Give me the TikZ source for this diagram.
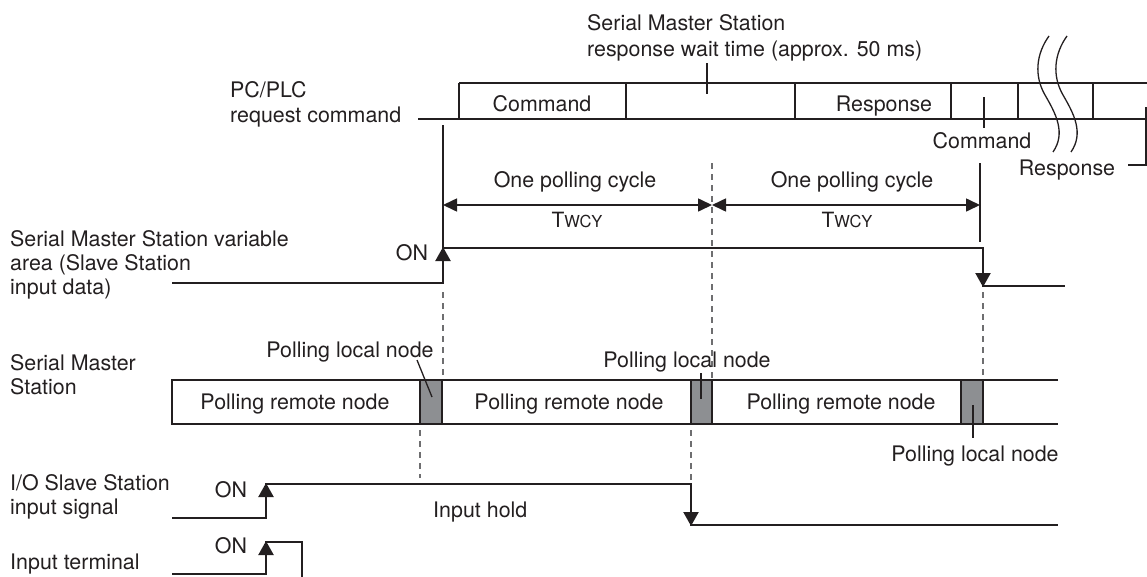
\documentclass[tikz,border=0pt]{standalone}
\usepackage{fontspec}
\setmainfont{TeX Gyre Heros}
\usetikzlibrary{arrows.meta}
\definecolor{ink}{RGB}{35,31,32}
\definecolor{dashgray}{RGB}{110,110,112}
\definecolor{fillgray}{RGB}{141,143,146}
\begin{document}
\begin{tikzpicture}[x=1pt,y=-1pt,
  lbl/.style={font=\fontsize{21.4}{24.5}\selectfont, inner sep=0pt, text=ink},
  sig/.style={draw=ink, line width=2.2pt},
  boxln/.style={draw=ink, line width=2pt},
  thin/.style={draw=ink, line width=1.3pt},
  dashln/.style={draw=dashgray, line width=1.3pt, dash pattern=on 6pt off 5pt},
  tip/.style={draw=ink, line width=2.2pt, -{Triangle[length=14pt,width=15pt]}},
  dimarr/.style={draw=ink, line width=1.6pt, {Triangle[length=14pt,width=13pt]}-{Triangle[length=14pt,width=13pt]}},
  localbox/.style={fill=fillgray, draw=ink, line width=2pt}
]
\useasboundingbox (0,0) rectangle (1147,576);

% ---------- top row: PC/PLC request command ----------
\node[lbl, anchor=base west] (pcplc1) at (230,97) {PC/PLC};
\node[lbl, anchor=base west] (pcplc2) at (230,122) {request command};
\node[lbl, anchor=base west] (wait1) at (587,30) {Serial Master Station};
\node[lbl, anchor=base west] (wait2) at (587,56) {response wait time (approx. 50 ms)};

\draw[boxln] (418,119) -- (1147,119);
\draw[boxln] (459,83) -- (1147,83);
\foreach \xx in {459,626,795,951,1018,1093}{\draw[boxln] (\xx,83) -- (\xx,119);}
\node[lbl, anchor=base] (cmd1) at (542,111) {Command};
\node[lbl, anchor=base] (resp1) at (884,111) {Response};
\node[lbl, anchor=base] (cmd2) at (982,148) {Command};
\node[lbl, anchor=base] (resp2) at (1067,175) {Response};

% leaders
\draw[thin] (707,63) -- (707,94);
\draw[thin] (984,97) -- (984,128);
\draw[thin] (1128,165) -- (1146,165) -- (1146,107);

% break waves
\draw[thin] (1049,36) .. controls (1036,54) and (1034,76) .. (1045,95)
  .. controls (1056,114) and (1066,133) .. (1053,152);
\draw[thin] (1067,36) .. controls (1054,54) and (1052,76) .. (1063,95)
  .. controls (1074,114) and (1084,133) .. (1071,152);

% ---------- polling cycle dimensions ----------
\draw[thin] (443,125) -- (443,248);
\draw[thin] (980,163) -- (980,242);
\draw[dashln] (712,163) -- (712,378);
\draw[dimarr] (443,205) -- (712,205);
\draw[dimarr] (712,205) -- (980,205);
\node[lbl, anchor=base] (cyc1) at (575,187) {One polling cycle};
\node[lbl, anchor=base] (cyc2) at (852,187) {One polling cycle};
\node[inner sep=0pt, text=ink, anchor=base] (tw1) at (577,227) {\fontsize{21}{21}\selectfont T\fontsize{16.5}{16.5}\selectfont WCY};
\node[inner sep=0pt, text=ink, anchor=base] (tw2) at (847,227) {\fontsize{21}{21}\selectfont T\fontsize{16.5}{16.5}\selectfont WCY};

% ---------- variable area signal ----------
\node[lbl, anchor=base west] (var1) at (10,246) {Serial Master Station variable};
\node[lbl, anchor=base west] (var2) at (10,270) {area (Slave Station};
\node[lbl, anchor=base west] (var3) at (10,294) {input data)};
\node[lbl, anchor=base] (on1) at (412,260) {ON};
\draw[sig] (172,283) -- (443,283) -- (443,248) -- (983,248) -- (983,286) -- (1065,286);
\draw[tip] (443,274) -- (443,247);
\draw[tip] (983,260) -- (983,287);
\draw[dashln] (443,292) -- (443,378);
\draw[dashln] (983,292) -- (983,378);

% ---------- Serial Master Station polling bar ----------
\node[lbl, anchor=base west] (sms1) at (10,370) {Serial Master};
\node[lbl, anchor=base west] (sms2) at (10,394) {Station};
\draw[boxln] (1058,380) -- (172,380) -- (172,424) -- (1058,424);
\draw[localbox] (420,380) rectangle (442,424);
\draw[localbox] (691,380) rectangle (712,424);
\draw[localbox] (961,380) rectangle (983,424);
\node[lbl, anchor=base] (rem1) at (295,409) {Polling remote node};
\node[lbl, anchor=base] (rem2) at (569,409) {Polling remote node};
\node[lbl, anchor=base] (rem3) at (841,409) {Polling remote node};
\node[lbl, anchor=base] (loc1) at (350,357) {Polling local node};
\node[lbl, anchor=base] (loc2) at (687,367) {Polling local node};
\node[lbl, anchor=base] (loc3) at (975,461) {Polling local node};
\draw[thin] (417,360) -- (432,397);
\draw[thin] (701,373) -- (701,399);
\draw[thin] (973,405) -- (973,438);
\draw[dashln] (420,430) -- (420,478);
\draw[dashln] (691,430) -- (691,480);

% ---------- I/O Slave Station input signal ----------
\node[lbl, anchor=base west] (io1) at (10,490) {I/O Slave Station};
\node[lbl, anchor=base west] (io2) at (10,514) {input signal};
\node[lbl, anchor=base] (on2) at (231,497) {ON};
\node[lbl, anchor=base west] (hold) at (433,517) {Input hold};
\draw[sig] (172,518) -- (266,518) -- (266,484) -- (691,484) -- (691,525) -- (1058,525);
\draw[tip] (266,510) -- (266,483);
\draw[tip] (691,498) -- (691,526);

% ---------- Input terminal ----------
\node[lbl, anchor=base west] (it) at (10,569) {Input terminal};
\node[lbl, anchor=base] (on3) at (231,553) {ON};
\draw[sig] (172,574) -- (266,574) -- (266,542) -- (302,542) -- (302,580);
\draw[tip] (266,568) -- (266,541);
\end{tikzpicture}
\end{document}
